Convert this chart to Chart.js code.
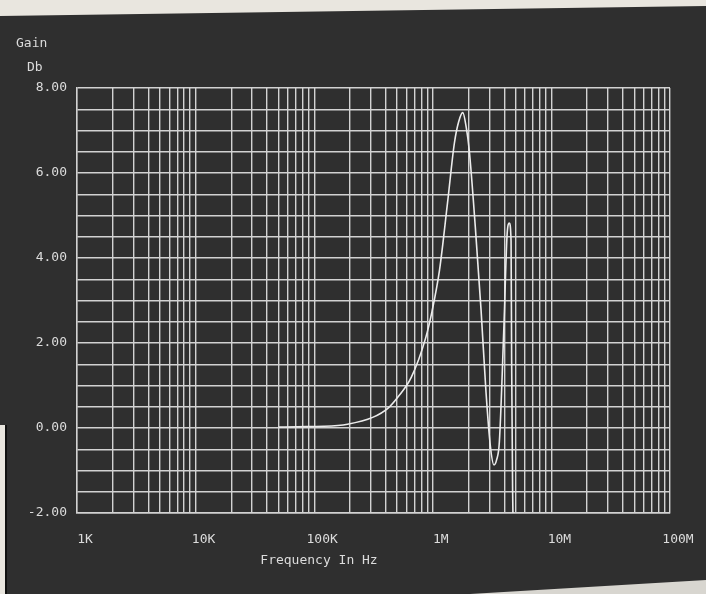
<!DOCTYPE html>
<html>
<head>
<meta charset="utf-8">
<script src="https://cdn.jsdelivr.net/npm/chart.js@4/dist/chart.umd.min.js"></script>
<style>
  html,body{margin:0;padding:0;background:#2f2f2f;}
  canvas{display:block;}
</style>
</head>
<body>
<canvas id="c" width="706" height="594"></canvas>
<script>
// frequency response
const freqHz = [50e3, 72e3, 120e3, 191e3, 311e3, 420e3, 508e3, 658e3, 871e3, 986e3, 1.14e6, 1.33e6, 1.52e6, 1.65e6, 1.79e6, 1.92e6, 2.03e6, 2.28e6, 2.55e6, 2.81e6, 3.05e6, 3.28e6, 3.45e6, 3.64e6, 3.98e6, 4.24e6, 4.42e6, 4.57e6, 4.62e6, 4.71e6, 4.78e6];
const gainDb = [0.02, 0.03, 0.04, 0.09, 0.25, 0.47, 0.73, 1.19, 2.12, 2.75, 3.72, 5.29, 6.70, 7.20, 7.42, 7.05, 6.53, 4.75, 2.79, 0.84, -0.40, -0.87, -0.75, -0.33, 2.41, 4.59, 4.82, 4.40, 1.60, -1.50, -2.60];

const decadeValues = [1e3, 1e4, 1e5, 1e6, 1e7, 1e8];
const decadeLabels = ['1K', '10K', '100K', '1M', '10M', '100M'];
const gridMultipliers = [1, 2, 3, 4, 5, 6, 7, 8, 9];

const FG = '#dcdcdc';
const FONT = '"DejaVu Sans Mono", monospace';

function gridFreqs(){
  const out = [];
  decadeValues.forEach((d, i) => {
    if(i === decadeValues.length - 1){ out.push(d); return; }
    gridMultipliers.forEach(m => out.push(m * d));
  });
  return out;
}

const paper = {
  id: 'paper',
  beforeDraw(chart){
    const c = chart.ctx;
    c.save();
    c.fillStyle = '#2f2f2f';
    c.fillRect(0, 0, chart.width, chart.height);
    c.fillStyle = '#e9e6df';
    c.beginPath(); c.moveTo(0,0); c.lineTo(706,0); c.lineTo(706,6); c.lineTo(0,16); c.closePath(); c.fill();
    c.beginPath(); c.moveTo(0,425); c.lineTo(5,425); c.lineTo(5,594); c.lineTo(0,594); c.closePath(); c.fill();
    c.fillStyle = '#111';
    c.fillRect(5, 425, 2, 169);
    c.fillStyle = '#d8d6d0';
    c.beginPath(); c.moveTo(470,594); c.lineTo(706,580); c.lineTo(706,594); c.closePath(); c.fill();
    c.restore();
  },
  afterDraw(chart){
    const c = chart.ctx;
    c.save();
    c.fillStyle = FG;
    c.font = '13px ' + FONT;
    c.textBaseline = 'middle';
    c.textAlign = 'left';
    c.fillText('Gain', 16, 44);
    c.fillText('Db', 27, 68);
    c.textAlign = 'center';
    c.fillText('Frequency In Hz', 319, 561);
    c.restore();
  }
};

new Chart(document.getElementById('c'), {
  type: 'line',
  data: {
    datasets: [{
      data: freqHz.map((f, i) => ({x: f, y: gainDb[i]})),
      borderColor: '#ececec',
      borderWidth: 1.6,
      pointRadius: 0,
      cubicInterpolationMode: 'monotone',
      fill: false
    }]
  },
  options: {
    responsive: false,
    animation: false,
    layout: {padding: {top: 88, right: 36, bottom: 0, left: 0}},
    plugins: {legend: {display: false}, tooltip: {enabled: false}},
    scales: {
      x: {
        type: 'logarithmic',
        min: 1e3, max: 1e8,
        afterBuildTicks: s => { s.ticks = gridFreqs().map(v => ({value: v})); },
        afterFit: s => { s.height = 81; },
        grid: {color: '#d2d2d2', lineWidth: 1.4, drawTicks: false},
        border: {color: '#d2d2d2', width: 1.4},
        ticks: {
          autoSkip: false, maxRotation: 0, padding: 19, labelOffset: 8,
          color: FG, font: {family: FONT, size: 13},
          callback: v => { const i = decadeValues.indexOf(v); return i >= 0 ? decadeLabels[i] : ''; }
        }
      },
      y: {
        min: -2, max: 8,
        afterFit: s => { s.width = 77; },
        grid: {color: '#d2d2d2', lineWidth: 1.4, drawTicks: false},
        border: {color: '#d2d2d2', width: 1.4},
        ticks: {
          stepSize: 0.5, autoSkip: false, padding: 10,
          color: FG, font: {family: FONT, size: 13},
          callback: v => Math.abs(v % 2) < 1e-9 ? v.toFixed(2) : ''
        }
      }
    }
  },
  plugins: [paper]
});
</script>
</body>
</html>
